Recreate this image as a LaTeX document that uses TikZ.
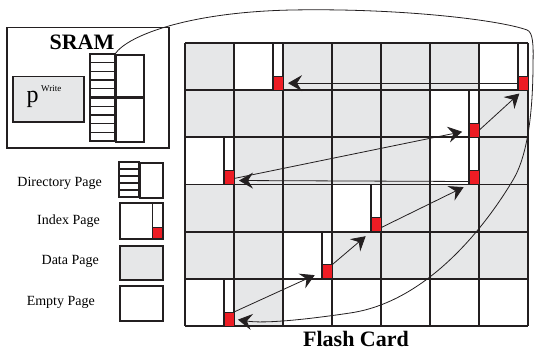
\documentclass[tikz,border=0pt]{standalone}
\usepackage{fontspec}
\setmainfont{Liberation Serif}
\usetikzlibrary{arrows.meta}
\definecolor{pagegray}{HTML}{E6E7E8}
\definecolor{ink}{HTML}{231F20}
\definecolor{flashred}{HTML}{ED1C24}
\begin{document}
\begin{tikzpicture}[x=1pt,y=-1pt,
  gridline/.style={draw=ink, line width=1.8pt},
  stripeline/.style={draw=ink, line width=1.3pt},
  boxline/.style={draw=ink, line width=1.5pt},
  redbox/.style={fill=flashred, draw=ink, line width=1pt, minimum width=10pt, minimum height=14pt, inner sep=0pt, outer sep=0pt},
  conn/.style={draw=ink, line width=0.8pt, -{Stealth[length=14pt,width=16pt,inset=5pt]}},
  legendtext/.style={font=\fontsize{14}{14}\selectfont, anchor=east, inner sep=0pt},
  titletext/.style={font=\fontsize{22}{22}\selectfont\bfseries, inner sep=0pt}
]
\useasboundingbox (0,0) rectangle (534,350);

% ---------- SRAM ----------
\node[boxline, fill=white, minimum width=162pt, minimum height=120pt, inner sep=0pt, anchor=north west] (sram) at (6,27) {};
\node[titletext] (sramlabel) at (82,42.5) {SRAM};
\node[boxline, fill=pagegray, minimum width=71pt, minimum height=45pt, inner sep=0pt, anchor=north west] (pw) at (12,76) {};
\node[anchor=base west, inner sep=0pt] (pwtext) at (26.5,102.5) {\fontsize{24}{24}\selectfont p\kern2.5pt\raisebox{11pt}{\fontsize{9}{9}\selectfont Write}};

% directory pages in SRAM
\draw[gridline] (90,54) rectangle (115,141);
\foreach \k in {1,...,4} {
  \draw[stripeline] (90,{54+8.7*\k}) -- (115,{54+8.7*\k});
  \draw[stripeline] (90,{97.5+8.7*\k}) -- (115,{97.5+8.7*\k});
}
\node[gridline, minimum width=28pt, minimum height=43.5pt, inner sep=0pt, anchor=north west] (dirR) at (115,54) {};
\node[gridline, minimum width=28pt, minimum height=43.5pt, inner sep=0pt, anchor=north west] (dirR2) at (115,97.5) {};
\draw[draw=ink, line width=2.4pt] (90,97.5) -- (143,97.5);

% ---------- legend ----------
\node[legendtext] (ldir) at (102,183) {Directory Page};
\node[legendtext] (lidx) at (100,221) {Index Page};
\node[legendtext] (ldat) at (99,261) {Data Page};
\node[legendtext] (lemp) at (95,302.5) {Empty Page};

\draw[gridline] (119,162) rectangle (139,197);
\foreach \k in {1,...,4} \draw[stripeline] (119,{162+7*\k}) -- (139,{162+7*\k});
\node[gridline, minimum width=23pt, minimum height=35pt, inner sep=0pt, anchor=north west] (icondir) at (139,162) {};

\node[gridline, fill=white, minimum width=43pt, minimum height=36pt, inner sep=0pt, anchor=north west] (iconidx) at (119,202) {};
\draw[gridline] (152.5,202) -- (152.5,238);
\node[redbox, minimum width=9.5pt, minimum height=11pt, anchor=south east] (iconred) at (162,238) {};

\node[gridline, fill=pagegray, minimum width=43pt, minimum height=34pt, inner sep=0pt, anchor=north west] (icondat) at (119,245) {};
\node[gridline, fill=white, minimum width=43pt, minimum height=35pt, inner sep=0pt, anchor=north west] (iconemp) at (119,285) {};

% ---------- flash card grid ----------
\fill[pagegray] (185,43) rectangle (528,326);
% empty pages
\foreach \j in {2,...,6}
  \fill[white] ({185+49*\j},{43+47.1667*5}) rectangle ++(49,47.1667);
% index pages (white)
\foreach \i/\j in {0/1,0/6,1/5,2/0,2/5,3/3,4/2,5/0}
  \fill[white] ({185+49*\j},{43+47.1667*\i}) rectangle ++(49,47.1667);
% grid lines
\foreach \j in {0,...,7} \draw[gridline] ({185+49*\j},43) -- ({185+49*\j},326);
\foreach \i in {0,...,6} \draw[gridline] (185,{43+47.1667*\i}) -- (528,{43+47.1667*\i});
% index strips and red boxes
\foreach \i/\j in {0/1,0/6,1/5,2/0,2/5,3/3,4/2,5/0} {
  \draw[gridline] ({185+49*(\j+1)-10},{43+47.1667*\i}) -- ++(0,47.1667);
  \node[redbox, anchor=south east] (r\i\j) at ({185+49*(\j+1)},{43+47.1667*(\i+1)}) {};
}
\node[titletext] (flashlabel) at (356,338.5) {Flash Card};

% ---------- pointer chain ----------
\draw[conn, shorten >=4pt] (dirR.north west) .. controls (128,35) and (190,12) .. (292,10)
   .. controls (400,8) and (500,20) .. (527,30)
   .. controls (533,32) and (533.5,45) .. (533,63)
   .. controls (533,110) and (528,155) .. (513,180)
   .. controls (501,200) and (440,300) .. (350,313)
   .. controls (310,319) and (265,324) .. (r50.east);
\draw[conn, shorten >=8pt] (r50.north east) -- (r42.west);
\draw[conn, shorten >=7pt] (r42.north east) -- (r33.south west);
\draw[conn, shorten >=6pt] ([yshift=-3pt]r33.east) -- (r25.south west);
\draw[conn, shorten >=5pt] ([yshift=-4pt]r25.west) -- ([yshift=-3pt]r20.east);
\draw[conn, shorten >=7pt] ([yshift=-1pt]r20.east) -- (r15.west);
\draw[conn, shorten >=5pt] (r15.east) -- (r06.south);
\draw[conn, shorten >=5pt] (r06.west) -- (r01.east);
\end{tikzpicture}
\end{document}
